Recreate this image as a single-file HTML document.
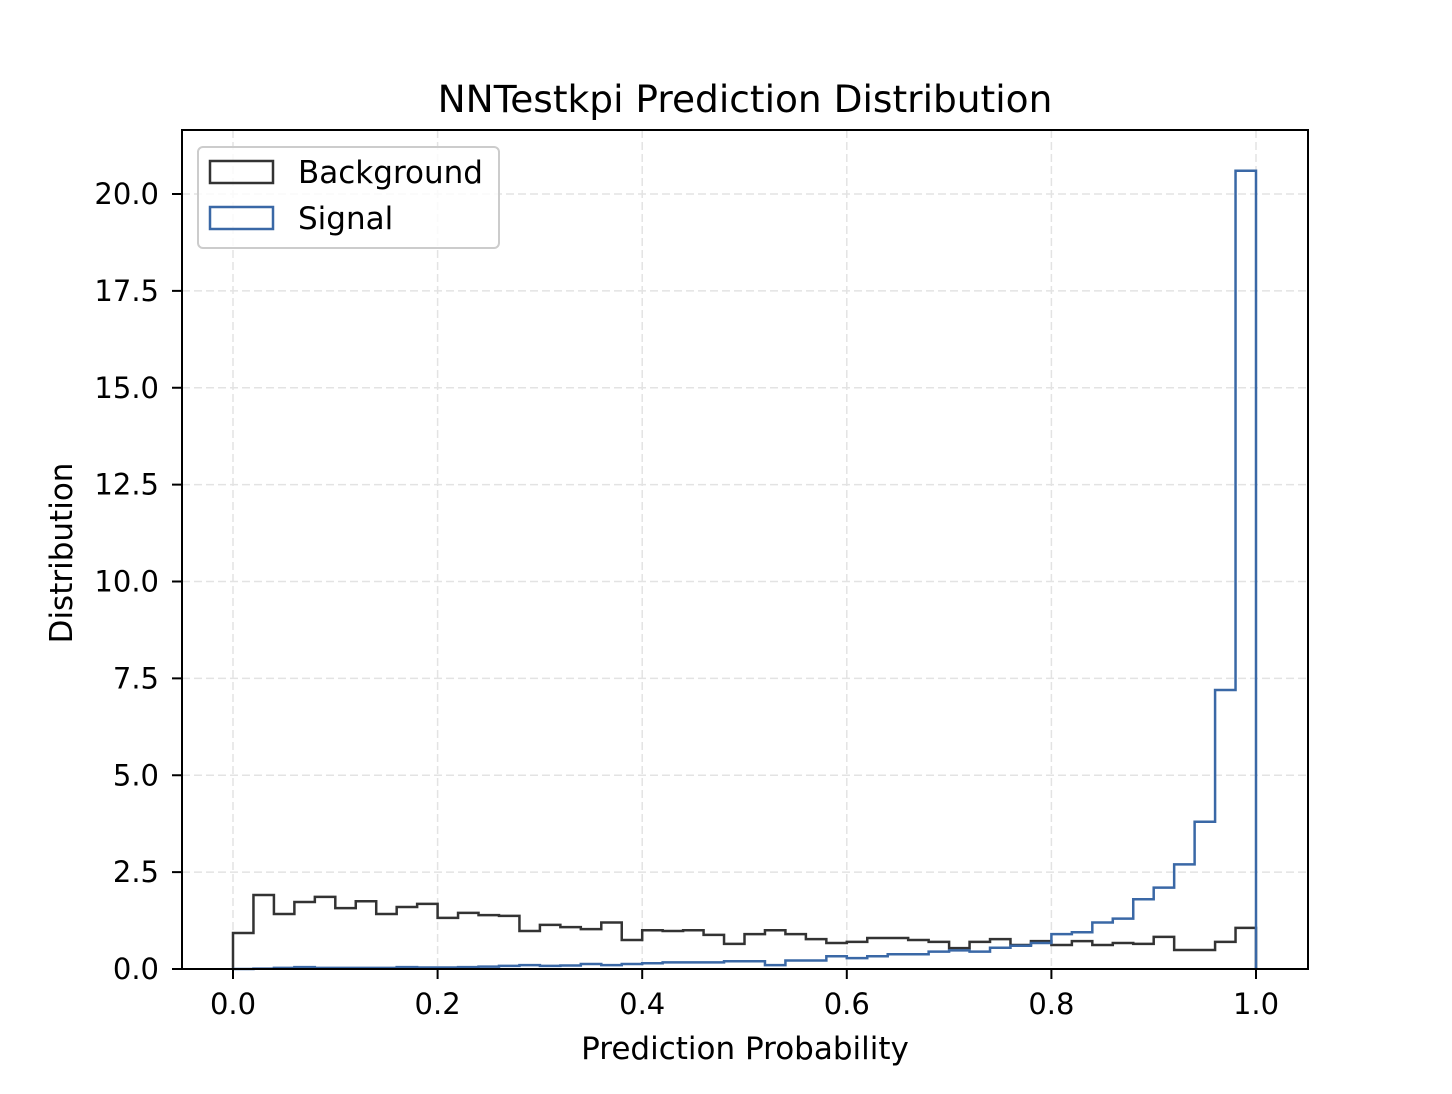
<!DOCTYPE html>
<html><head><meta charset="utf-8"><style>
body{margin:0;background:#fff;}
svg{font-family:"DejaVu Sans","Liberation Sans",sans-serif;}
</style></head><body>
<svg id="chart" width="1452" height="1089" viewBox="0 0 1452 1089">
<rect width="1452" height="1089" fill="#fff"/>
<g id="grid"></g>
<g id="series"></g>
<rect x="182" y="130" width="1126" height="839" fill="none" stroke="#000" stroke-width="2"/>
<g id="axes"></g>
<text x="745" y="112" text-anchor="middle" font-size="37.5">NNTestkpi Prediction Distribution</text>
<text x="745" y="1059" text-anchor="middle" font-size="31">Prediction Probability</text>
<text transform="translate(72,553) rotate(-90)" text-anchor="middle" font-size="31">Distribution</text>
<g>
<rect x="198" y="147" width="301" height="101" rx="5" fill="#fff" fill-opacity="0.8" stroke="#ccc" stroke-width="2"/>
<g>
<rect x="210" y="161" width="63" height="22" fill="none" stroke="#333" stroke-width="2.5"/>
<text x="298" y="183" font-size="31">Background</text></g>
<g>
<rect x="210" y="207" width="63" height="22" fill="none" stroke="#3a68a6" stroke-width="2.5"/>
<text x="298" y="229" font-size="31">Signal</text></g>
</g>
</svg>
<script>
const binEdgesStart = 0, binWidth = 0.02;
const backgroundValues = [0.93,1.91,1.42,1.73,1.86,1.57,1.75,1.42,1.6,1.68,1.32,1.45,1.39,1.37,0.98,1.14,1.08,1.03,1.2,0.75,1.0,0.98,1.0,0.88,0.65,0.9,1.0,0.9,0.77,0.67,0.7,0.8,0.8,0.75,0.7,0.54,0.7,0.77,0.62,0.72,0.62,0.72,0.62,0.67,0.65,0.83,0.49,0.49,0.7,1.06];
const signalValues = [0,0.01,0.03,0.05,0.03,0.03,0.03,0.03,0.05,0.04,0.04,0.05,0.06,0.08,0.1,0.08,0.09,0.13,0.1,0.13,0.15,0.17,0.17,0.17,0.2,0.2,0.1,0.22,0.22,0.33,0.28,0.33,0.38,0.38,0.45,0.48,0.45,0.55,0.6,0.67,0.9,0.95,1.2,1.3,1.8,2.1,2.7,3.8,7.2,20.6];
const xTicks = [0,0.2,0.4,0.6,0.8,1.0];
const xTickLabels = ["0.0","0.2","0.4","0.6","0.8","1.0"];
const yTicks = [0,2.5,5,7.5,10,12.5,15,17.5,20];
const yTickLabels = ["0.0","2.5","5.0","7.5","10.0","12.5","15.0","17.5","20.0"];

const X = v => 233 + v*1023;
const Y = v => 969 - v*38.75;
const NS = "http://www.w3.org/2000/svg";
function mk(tag, attrs, parent){const e=document.createElementNS(NS,tag);for(const k in attrs)e.setAttribute(k,attrs[k]);parent.appendChild(e);return e;}
const grid=document.getElementById('grid'), axes=document.getElementById('axes'), series=document.getElementById('series');
xTicks.forEach((t,i)=>{
  const g=mk('line',{x1:X(t),x2:X(t),y1:130,y2:969,stroke:'#e3e3e3','stroke-width':1.5,'stroke-dasharray':'8,4'},grid);
  
  
  const tk=mk('line',{x1:X(t),x2:X(t),y1:969,y2:979,stroke:'#000','stroke-width':2},axes);
  
  
  const tx=mk('text',{x:X(t),y:1014,'text-anchor':'middle','font-size':29},axes);
  tx.textContent=xTickLabels[i];
  
  
});
yTicks.forEach((t,i)=>{
  const g=mk('line',{x1:182,x2:1308,y1:Y(t),y2:Y(t),stroke:'#e3e3e3','stroke-width':1.5,'stroke-dasharray':'8,4'},grid);
  
  
  const tk=mk('line',{x1:172,x2:182,y1:Y(t),y2:Y(t),stroke:'#000','stroke-width':2},axes);
  
  
  const tx=mk('text',{x:159,y:Y(t)+10,'text-anchor':'end','font-size':29},axes);
  tx.textContent=yTickLabels[i];
  
  
});
function stepPath(vals){
  let d='M'+X(binEdgesStart)+','+Y(0);
  vals.forEach((v,i)=>{const x0=X(binEdgesStart+i*binWidth),x1=X(binEdgesStart+(i+1)*binWidth);d+=' L'+x0+','+Y(v)+' L'+x1+','+Y(v);});
  d+=' L'+X(binEdgesStart+vals.length*binWidth)+','+Y(0);
  return d;
}
const bg=mk('path',{d:stepPath(backgroundValues),fill:'none',stroke:'#333','stroke-width':2.5},series);


const sg=mk('path',{d:stepPath(signalValues),fill:'none',stroke:'#3a68a6','stroke-width':2.5},series);


</script>
</body></html>
